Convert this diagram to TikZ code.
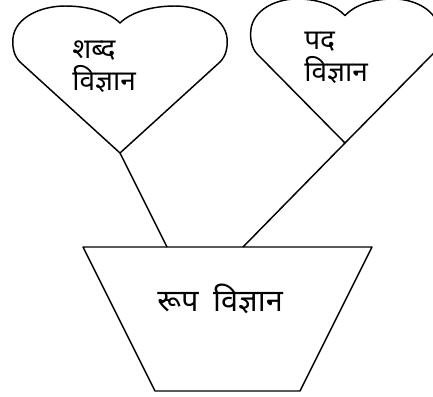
\documentclass[tikz,border=0pt]{standalone}
\usepackage{fontspec}
\newfontfamily\deva[Script=Devanagari]{Noto Sans}
\usetikzlibrary{positioning, calc}

\tikzset{
    heartline/.style={line width=1.1pt, line join=round},
    label/.style={font=\deva\fontsize{21}{24}\selectfont, inner sep=0pt, anchor=base west}
}

\newcommand{\heartshape}{(0,0) -- (-100,-91)
    .. controls (-106,-97) and (-108,-106) .. (-107,-115)
    .. controls (-105,-135) and (-80,-147) .. (-55,-147)
    .. controls (-30,-147) and (-10,-140) .. (0,-130)
    .. controls (10,-140) and (30,-147) .. (55,-147)
    .. controls (80,-147) and (105,-135) .. (107,-115)
    .. controls (108,-106) and (106,-97) .. (100,-91)
    -- cycle}

\begin{document}
\begin{tikzpicture}[x=0.75pt, y=-0.75pt]
        \useasboundingbox (0,0) rectangle (433,397);
        
        % Draw the two hearts
        \draw[heartline, shift={(120,153)}] \heartshape;
        \draw[heartline, shift={(345,143)}, xscale=0.88, yscale=0.98] \heartshape;
        \coordinate (shabdtip) at (120,153);
        \coordinate (padtip) at (345,143);
        
        % Heart labels
        \node[label] (shabd) at (72,58) {शब्द};
        \node[label] (shabdvig) at (72,90) {विज्ञान};
        \node[label] (pad) at (304,49) {पद};
        \node[label] (padvig) at (304,81) {विज्ञान};
        
        % Draw the trapezium
        \draw[heartline] (83,247) -- (372,247) -- (300,391) -- (155,391) -- cycle;
        \coordinate (roopL) at (167,247);
        \coordinate (roopR) at (243,247);
        \node[label, font=\deva\fontsize{23}{26}\selectfont] (roop) at (157,311) {रूप\hspace{11pt}विज्ञान};
        
        % Connect hearts to the trapezium
        \draw[heartline] (shabdtip) -- (roopL);
        \draw[heartline] (padtip) -- (roopR);
                
    \end{tikzpicture}
\end{document}
